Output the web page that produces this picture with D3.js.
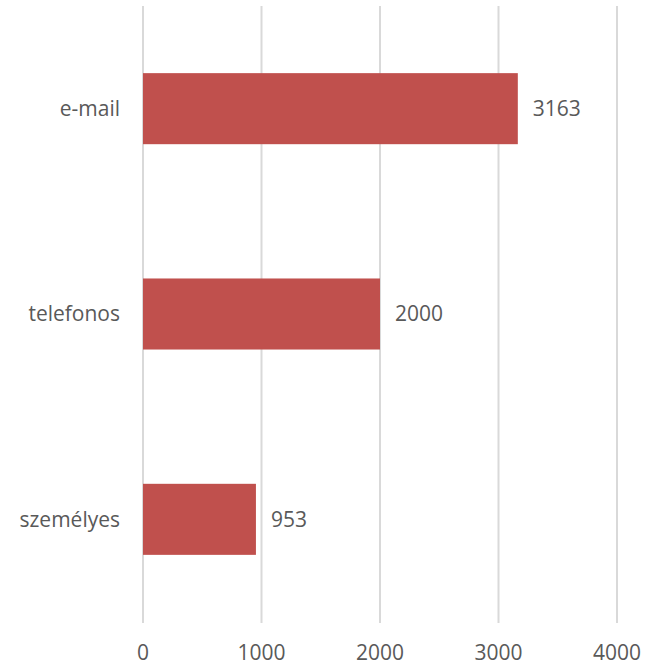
<!DOCTYPE html>
<html lang="hu">
<head>
  <meta charset="utf-8">
  <title>Kapcsolatfelvétel</title>
  <script src="https://cdn.jsdelivr.net/npm/d3@7"></script>
  <style>
    body { margin: 0; background: #fff; }
    text { font-family: "Open Sans", "Liberation Sans", sans-serif; fill: #595959; }
  </style>
</head>
<body>
  <script>
    var categories = ["e-mail", "telefonos", "személyes"];
    var values = [3163, 2000, 953];
    var ticks = [0, 1000, 2000, 3000, 4000];

    var width = 657, height = 666;
    var svg = d3.select("body").append("svg")
      .attr("width", width).attr("height", height);

    var x = d3.scaleLinear().domain([0, 4000]).range([143, 617]);
    var y = d3.scaleBand().domain(categories).range([6, 622])
      .paddingInner(0.654).paddingOuter(0.327);

    // grid lines
    svg.append("g").selectAll("line").data(ticks).enter().append("line")
      .attr("x1", function(d){ return x(d); })
      .attr("x2", function(d){ return x(d); })
      .attr("y1", 6).attr("y2", 623)
      .attr("stroke", "#d9d9d9").attr("stroke-width", 2);

    // tick labels
    svg.append("g").selectAll("text").data(ticks).enter().append("text")
      .attr("x", function(d){ return x(d); })
      .attr("y", 653)
      .attr("dy", "0.35em")
      .attr("text-anchor", "middle")
      .attr("font-size", 21)
      .text(function(d){ return d; });

    // bars
    svg.append("g").selectAll("rect").data(values).enter().append("rect")
      .attr("x", x(0))
      .attr("y", function(d, i){ return y(categories[i]); })
      .attr("width", function(d){ return x(d) - x(0); })
      .attr("height", y.bandwidth())
      .attr("fill", "#c0504d");

    // category labels
    svg.append("g").selectAll("text").data(categories).enter().append("text")
      .attr("x", 120)
      .attr("y", function(d){ return y(d) + y.bandwidth() / 2; })
      .attr("dy", "0.35em")
      .attr("text-anchor", "end")
      .attr("font-size", 21)
      .text(function(d){ return d; });

    // value labels
    svg.append("g").selectAll("text").data(values).enter().append("text")
      .attr("x", function(d){ return x(d) + 15; })
      .attr("y", function(d, i){ return y(categories[i]) + y.bandwidth() / 2; })
      .attr("dy", "0.35em")
      .attr("font-size", 21)
      .text(function(d){ return d; });
  </script>
</body>
</html>
